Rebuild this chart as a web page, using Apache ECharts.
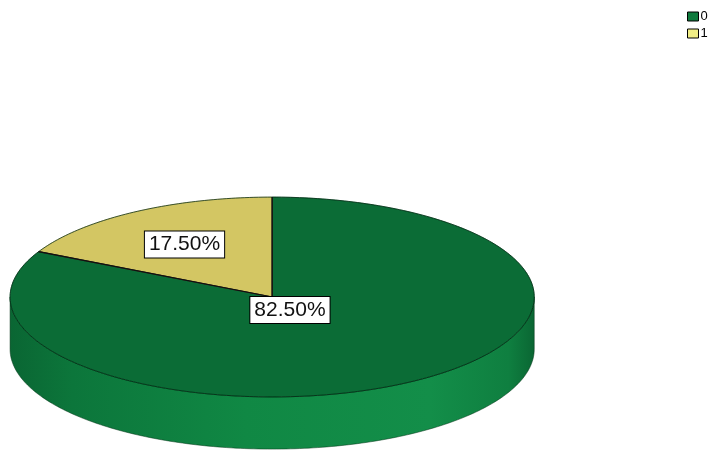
<!DOCTYPE html>
<html><head><meta charset="utf-8">
<script src="https://cdn.jsdelivr.net/npm/echarts@6/dist/echarts.min.js"></script>
<style>html,body{margin:0;padding:0;background:#fff}#c{width:720px;height:450px}</style>
</head><body><div id="c"></div>
<script>
const categories = ['0', '1'];
const values = [82.5, 17.5];
const labels = ['82.50%', '17.50%'];

const topColors = ['#0b6c36', '#d3c663'];
const legendColors = ['#0f7a3d', '#f1ee86'];
const labelFractions = [0.13, 0.64];

const chart = echarts.init(document.getElementById('c'), null, {renderer: 'canvas'});
const total = values.reduce((a, b) => a + b, 0);
const starts = [];
let acc = 0;
values.forEach(v => { starts.push(acc); acc += v; });

function geom(api) {
  const W = api.getWidth(), H = api.getHeight();
  return {cx: W * 0.378, cy: H * 0.66, rx: W * 0.364, ry: H * 0.222, depth: H * 0.116};
}
function pt(g, deg, dy) {
  const r = deg * Math.PI / 180;
  return [g.cx + g.rx * Math.sin(r), g.cy - g.ry * Math.cos(r) + (dy || 0)];
}
function arc(g, a0, a1, dy) {
  const pts = [];
  const n = Math.max(2, Math.ceil(Math.abs(a1 - a0)));
  for (let k = 0; k <= n; k++) pts.push(pt(g, a0 + (a1 - a0) * k / n, dy));
  return pts;
}
function render(i, api) {
  const g = geom(api);
  const a0 = starts[i] / total * 360, a1 = (starts[i] + values[i]) / total * 360;
  const children = [];
  const s0 = Math.max(a0, 90), s1 = Math.min(a1, 270);
  if (s1 > s0) {
    const pts = arc(g, s0, s1, 0).concat(arc(g, s1, s0, g.depth));
    children.push({
      type: 'polygon', z2: 0,
      shape: {points: pts},
      style: {
        fill: {type: 'linear', x: 0, y: 0, x2: 1, y2: 0, colorStops: [
          {offset: 0, color: '#0a6633'},
          {offset: 0.12, color: '#0c763b'},
          {offset: 0.45, color: '#108844'},
          {offset: 0.8, color: '#138e49'},
          {offset: 0.95, color: '#0f7f40'},
          {offset: 1, color: '#0a6633'}
        ]},
        stroke: 'rgba(0,50,20,0.5)', lineWidth: 1
      }
    });
  }
  const topPts = [[g.cx, g.cy]].concat(arc(g, a0, a1, 0));
  children.push({
    type: 'polygon', z2: 1,
    shape: {points: topPts},
    style: {fill: topColors[i], stroke: topColors[i], lineWidth: 0.5}
  });
  [a0, a1].forEach(a => {
    children.push({
      type: 'polyline', z2: 2,
      shape: {points: [[g.cx, g.cy], pt(g, a, 0)]},
      style: {stroke: '#111', lineWidth: 1.2, fill: null}
    });
  });
  children.push({
    type: 'polyline', z2: 2,
    shape: {points: arc(g, a0, a1, 0)},
    style: {stroke: 'rgba(0,35,15,0.75)', lineWidth: 1, fill: null}
  });
  const mid = (a0 + a1) / 2 * Math.PI / 180;
  const f = labelFractions[i];
  children.push({
    type: 'text', z2: 10,
    x: g.cx + g.rx * f * Math.sin(mid),
    y: g.cy - g.ry * f * Math.cos(mid) + 2,
    style: {
      text: labels[i], align: 'center', verticalAlign: 'middle',
      fill: '#111', font: '21px "Liberation Sans", Arial, sans-serif',
      backgroundColor: '#fff', borderColor: '#000', borderWidth: 1,
      padding: [3, 4, 2, 4]
    }
  });
  return {type: 'group', children};
}

chart.setOption({
  backgroundColor: '#fff',
  animation: false,
  legend: {
    data: categories.map((n, i) => ({name: n, icon: 'rect',
      itemStyle: {color: legendColors[i], borderColor: '#000', borderWidth: 1}})),
    orient: 'vertical', left: 687, top: 10, padding: 0,
    itemWidth: 11, itemHeight: 9, itemGap: 4,
    selectedMode: false,
    textStyle: {fontSize: 13, fontFamily: '"Liberation Sans", Arial, sans-serif', color: '#000', padding: [0, 0, 0, -3]}
  },
  series: categories.map((name, i) => ({
    type: 'custom', name, coordinateSystem: 'none', silent: true,
    data: [values[i]],
    itemStyle: {color: legendColors[i]},
    renderItem: (p, api) => render(i, api)
  }))
});
</script></body></html>
